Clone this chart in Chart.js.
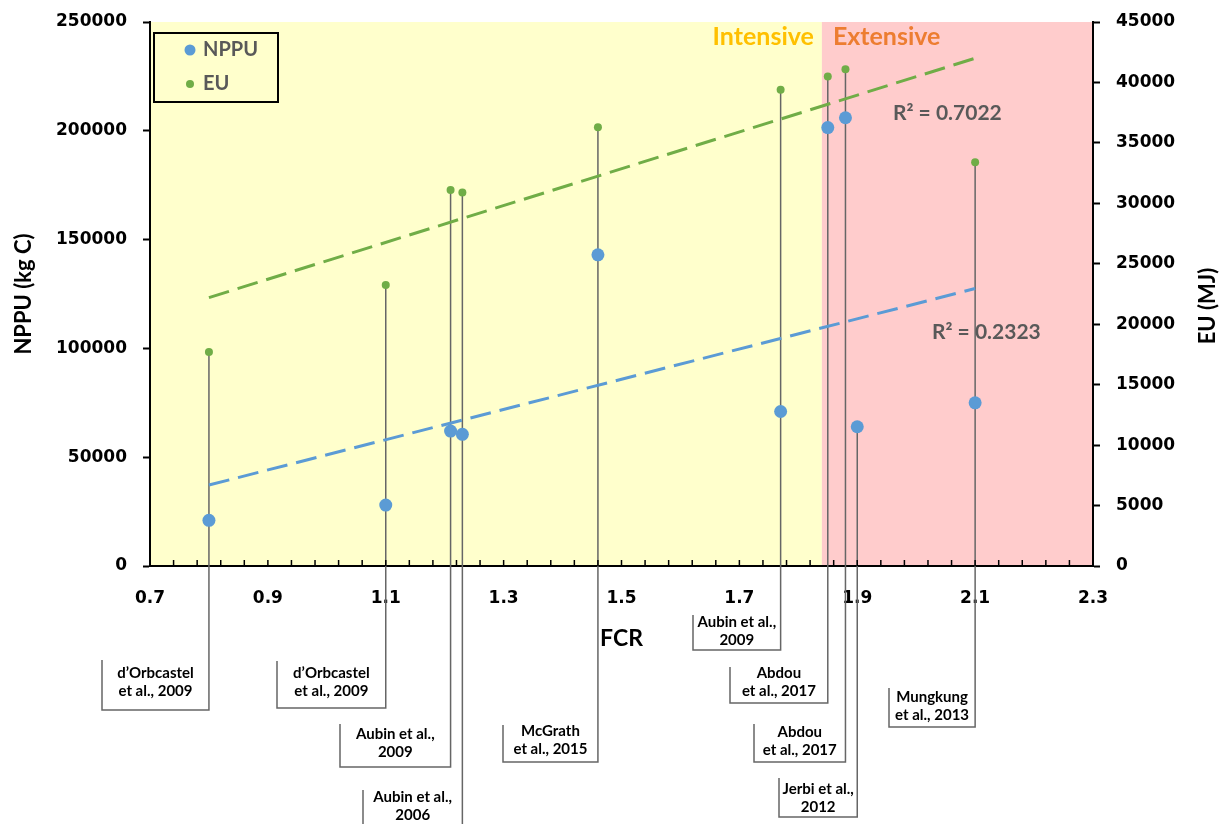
<!DOCTYPE html>
<html>
<head>
<meta charset="utf-8">
<script src="https://cdn.jsdelivr.net/npm/chart.js@4.4.0/dist/chart.umd.min.js"></script>
<style>
  html, body { margin: 0; padding: 0; background: #fff; }
</style>
</head>
<body>
<canvas id="myChart" width="1224" height="824"></canvas>
<script>
// data
var fcr  = [0.80, 1.10, 1.21, 1.23, 1.46, 1.77, 1.85, 1.88, 1.90, 2.10];
var nppu = [21000, 28000, 62000, 60500, 143000, 71000, 201500, 206000, 64000, 75000];
var eu   = [17700, 23250, 31100, 30900, 36300, 39400, 40500, 41100, null, 33400];
var refs = [
  ["d\u2019Orbcastel", "et al., 2009"],
  ["d\u2019Orbcastel", "et al., 2009"],
  ["Aubin et al.,", "2009"],
  ["Aubin et al.,", "2006"],
  ["McGrath", "et al., 2015"],
  ["Aubin et al.,", "2009"],
  ["Abdou", "et al., 2017"],
  ["Abdou", "et al., 2017"],
  ["Jerbi et al.,", "2012"],
  ["Mungkung", "et al., 2013"]
];
var refSeries = ['eu', 'eu', 'eu', 'eu', 'eu', 'eu', 'eu', 'eu', 'nppu', 'eu'];
var trendX = [0.8, 2.1];
var nppuTrend = [37200, 127500];
var euTrend = [22200, 42000];
var nppuR2 = 'R\u00b2 = 0.2323';
var euR2 = 'R\u00b2 = 0.7022';
var zoneSplit = 1.84;

// callout boxes: left, top, bottom, first text line y
var boxes = [
  [102, 660, 710, 673],
  [277, 661, 708, 673],
  [340, 724, 767, 734],
  [363, 790, 850, 797],
  [503, 725, 762, 731],
  [693, 615, 650, 622],
  [730, 667, 703, 673],
  [754, 724, 762, 732],
  [779, 778, 817, 789],
  [889, 688, 727, 697]
];

var blue = '#5B9BD5';
var green = '#70AD47';
var tickFont = { family: 'DejaVu Sans', size: 17, weight: 'bold' };

function pts(xs, ys) {
  var out = [];
  for (var i = 0; i < xs.length; i++) {
    if (ys[i] !== null) out.push({ x: xs[i], y: ys[i] });
  }
  return out;
}

function plain(v) { return String(v); }

var bgPlugin = {
  id: 'bg',
  beforeDraw: function (chart) {
    var c = chart.ctx, a = chart.chartArea;
    var xb = chart.scales.x.getPixelForValue(zoneSplit);
    c.save();
    c.fillStyle = '#fff';
    c.fillRect(0, 0, chart.width, chart.height);
    c.fillStyle = '#FFFFCC';
    c.fillRect(a.left, a.top, xb - a.left, a.bottom - a.top);
    c.fillStyle = '#FFCCCC';
    c.fillRect(xb, a.top, a.right - xb, a.bottom - a.top);
    c.restore();
  },
  beforeDatasetsDraw: function (chart) {
    var c = chart.ctx, xs = chart.scales.x;
    c.save();
    c.strokeStyle = '#666';
    c.lineWidth = 1.5;
    c.fillStyle = '#000';
    c.font = 'bold 15px Lato';
    c.textAlign = 'center';
    c.textBaseline = 'middle';
    for (var i = 0; i < refs.length; i++) {
      var b = boxes[i];
      var px = xs.getPixelForValue(fcr[i]);
      var py = refSeries[i] === 'eu' ? chart.scales.y2.getPixelForValue(eu[i]) : chart.scales.y.getPixelForValue(nppu[i]);
      c.beginPath();
      c.moveTo(b[0], b[1]);
      c.lineTo(b[0], b[2]);
      c.lineTo(px, b[2]);
      c.lineTo(px, py);
      c.stroke();
      var cx = (b[0] + px) / 2;
      c.fillText(refs[i][0], cx, b[3]);
      c.fillText(refs[i][1], cx, b[3] + 18);
    }
    c.restore();
  },
  afterDraw: function (chart) {
    var c = chart.ctx, a = chart.chartArea, xs = chart.scales.x;
    c.save();
    // inward minor ticks on the x axis
    c.strokeStyle = '#000';
    c.lineWidth = 1.5;
    xs.ticks.forEach(function (t) {
      var p = xs.getPixelForValue(t.value);
      c.beginPath();
      c.moveTo(p, a.bottom);
      c.lineTo(p, a.bottom - 6);
      c.stroke();
    });
    // zone titles
    var xb = xs.getPixelForValue(zoneSplit);
    c.font = 'bold 25px Lato';
    c.textBaseline = 'middle';
    c.textAlign = 'right';
    c.fillStyle = '#FFC000';
    c.fillText('Intensive', xb - 8, 37);
    c.textAlign = 'left';
    c.fillStyle = '#ED7D31';
    c.fillText('Extensive', xb + 11, 37);
    // R2 labels
    c.font = 'bold 21px Lato';
    c.fillStyle = '#595959';
    c.fillText(euR2, 893, 113);
    c.fillText(nppuR2, 932, 332);
    // legend
    c.lineWidth = 2;
    c.strokeStyle = '#000';
    c.strokeRect(154, 33, 124, 69);
    c.fillStyle = blue;
    c.beginPath(); c.arc(190, 50, 5.5, 0, Math.PI * 2); c.fill();
    c.fillStyle = green;
    c.beginPath(); c.arc(190, 84, 4, 0, Math.PI * 2); c.fill();
    c.fillStyle = '#595959';
    c.font = 'bold 20px Lato';
    c.fillText(chart.data.datasets[0].label, 203, 50);
    c.fillText(chart.data.datasets[1].label, 203, 84);
    // right axis title, reading bottom to top
    c.translate(1208, (a.top + a.bottom) / 2 + 12);
    c.rotate(-Math.PI / 2);
    c.textAlign = 'center';
    c.fillStyle = '#000';
    c.font = 'bold 22px Lato';
    c.fillText('EU (MJ)', 0, 0);
    c.restore();
  }
};

// pin the plot area to the reference frame
function fixWidth(w) {
  return function (s) {
    s.width = w;
    s.paddingTop = 0;
  };
}

var ctx = document.getElementById('myChart').getContext('2d');
var chart = new Chart(ctx, {
  type: 'scatter',
  data: {
    datasets: [{
      label: 'NPPU',
      data: pts(fcr, nppu),
      yAxisID: 'y',
      backgroundColor: blue,
      borderWidth: 0,
      pointRadius: 6.5
    }, {
      label: 'EU',
      data: pts(fcr, eu),
      yAxisID: 'y2',
      backgroundColor: green,
      borderWidth: 0,
      pointRadius: 4
    }, {
      label: 'NPPU trend',
      data: pts(trendX, nppuTrend),
      yAxisID: 'y',
      showLine: true,
      borderColor: blue,
      borderWidth: 3,
      borderDash: [21, 9],
      pointRadius: 0
    }, {
      label: 'EU trend',
      data: pts(trendX, euTrend),
      yAxisID: 'y2',
      showLine: true,
      borderColor: green,
      borderWidth: 3,
      borderDash: [21, 9],
      pointRadius: 0
    }]
  },
  options: {
    responsive: false,
    animation: false,
    layout: { padding: { top: 22, left: 0, right: 0, bottom: 0 } },
    plugins: { legend: { display: false }, tooltip: { enabled: false } },
    scales: {
      x: {
        type: 'linear',
        min: 0.7,
        max: 2.3,
        grid: { drawOnChartArea: false, drawTicks: false },
        border: { color: '#000', width: 2 },
        ticks: {
          stepSize: 0.04,
          autoSkip: false,
          maxRotation: 0,
          padding: 22,
          color: '#000',
          font: tickFont,
          callback: function (v) {
            var k = (v - 0.7) / 0.2;
            return Math.abs(k - Math.round(k)) < 1e-6 ? v.toFixed(1) : '';
          }
        },
        title: {
          display: true,
          text: 'FCR',
          color: '#000',
          font: { family: 'Lato', size: 23, weight: 'bold' },
          padding: { top: 0, bottom: 172 }
        },
        afterFit: function (s) { s.height = 258; }
      },
      y: {
        position: 'left',
        min: 0,
        max: 250000,
        grid: { drawOnChartArea: false, tickLength: 7, color: '#000', tickWidth: 2 },
        border: { color: '#000', width: 2 },
        ticks: { stepSize: 50000, padding: 16, color: '#000', font: tickFont, callback: plain },
        title: {
          display: true,
          text: 'NPPU (kg C)',
          color: '#000',
          font: { family: 'Lato', size: 22, weight: 'bold' },
          padding: { top: 11, bottom: 0 }
        },
        afterFit: fixWidth(150)
      },
      y2: {
        position: 'right',
        min: 0,
        max: 45000,
        grid: { drawOnChartArea: false, tickLength: 7, color: '#000', tickWidth: 2 },
        border: { color: '#000', width: 2 },
        ticks: { stepSize: 5000, padding: 16, color: '#000', font: tickFont, callback: plain },
        afterFit: fixWidth(131)
      }
    }
  },
  plugins: [bgPlugin]
});
</script>
</body>
</html>
